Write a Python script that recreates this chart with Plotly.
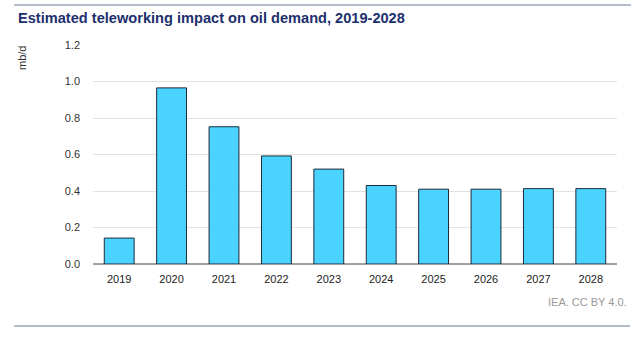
import plotly.graph_objects as go

years = ["2019", "2020", "2021", "2022", "2023", "2024", "2025", "2026", "2027", "2028"]
impact = [0.142, 0.965, 0.752, 0.592, 0.52, 0.43, 0.41, 0.41, 0.413, 0.413]
y_ticks = [0.0, 0.2, 0.4, 0.6, 0.8, 1.0, 1.2]

L, R, T, B = 93, 23, 45, 76
W, H = 640, 340
PW, PH = W - L - R, H - T - B

def px(x):
    return (x - L) / PW

def py(y):
    return (H - B - y) / PH

fig = go.Figure(go.Bar(
    x=years, y=impact,
    marker=dict(color="#4ad3ff", line=dict(color="#1c2a3a", width=1)),
    width=0.57,
))

fig.update_layout(
    width=W, height=H,
    margin=dict(l=L, r=R, t=T, b=B),
    paper_bgcolor="white", plot_bgcolor="white",
    showlegend=False,
    font=dict(family="Liberation Sans, Arial, sans-serif", size=11, color="#333"),
    xaxis=dict(showgrid=False, showline=False, ticks="", tickfont=dict(size=11, color="#222"),
               ticklabelstandoff=7),
    yaxis=dict(range=[0, 1.2], tickvals=y_ticks, ticktext=[f"{v:.1f}" for v in y_ticks],
               showgrid=True, gridcolor="#e3e3e3", gridwidth=1,
               zeroline=True, zerolinecolor="#a0a0a0", zerolinewidth=2,
               tickfont=dict(size=11, color="#333"), ticklabelstandoff=12),
    shapes=[
        dict(type="line", xref="paper", yref="paper", x0=px(14), x1=px(631), y0=py(5), y1=py(5),
             line=dict(color="#b4bccc", width=2)),
        dict(type="line", xref="paper", yref="paper", x0=px(14), x1=px(630), y0=py(326), y1=py(326),
             line=dict(color="#b4bccc", width=2)),
    ],
    annotations=[
        dict(text="<b>Estimated teleworking impact on oil demand, 2019-2028</b>", xref="paper", yref="paper",
             x=px(16), y=py(18), xanchor="left", yanchor="middle", showarrow=False,
             font=dict(size=14.6, color="#1c2f6e")),
        dict(text="mb/d", xref="paper", yref="paper", x=px(22), y=py(58), xanchor="center", yanchor="middle",
             textangle=-90, showarrow=False, font=dict(size=11, color="#333")),
        dict(text="IEA. CC BY 4.0.", xref="paper", yref="paper", x=px(629), y=py(302),
             xanchor="right", yanchor="middle", showarrow=False, font=dict(size=11, color="#999")),
    ],
)

fig.write_html("out.html")
